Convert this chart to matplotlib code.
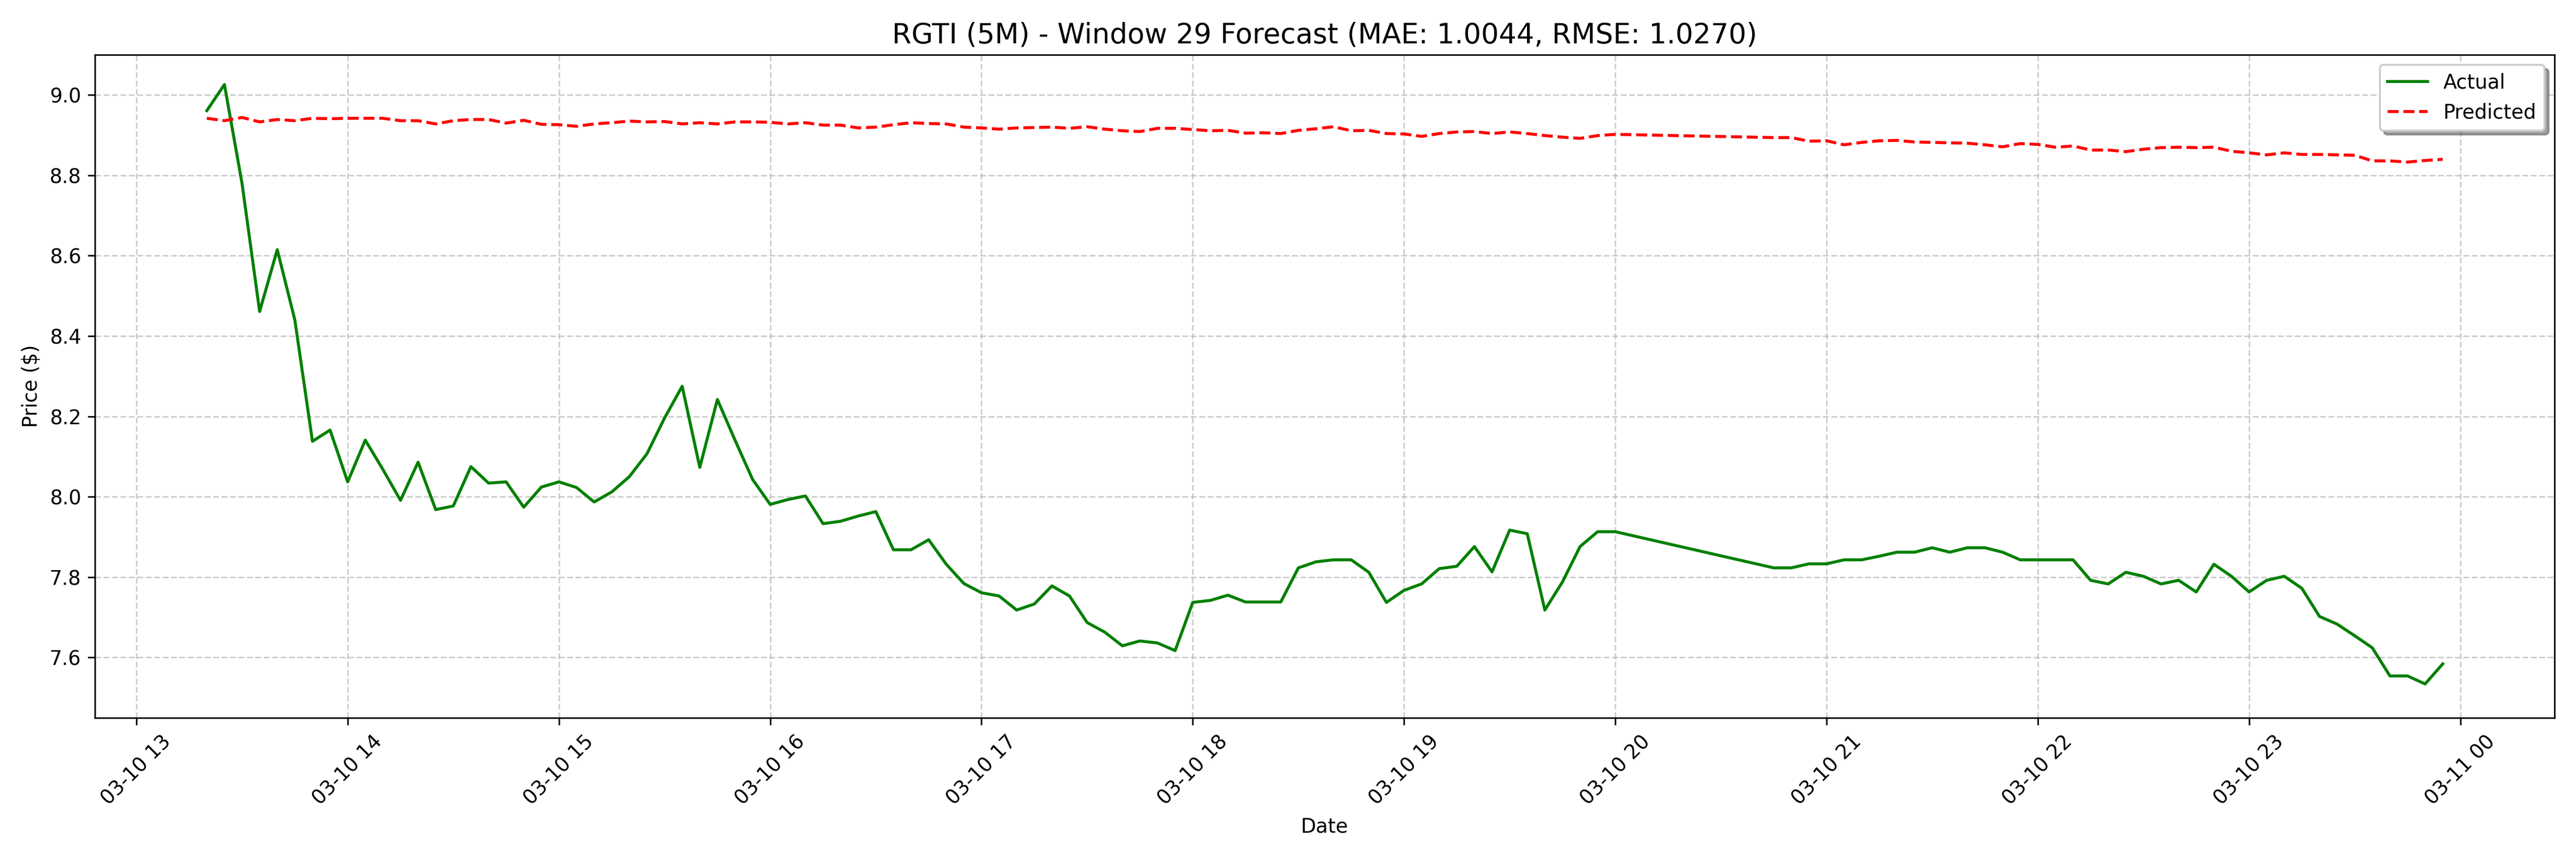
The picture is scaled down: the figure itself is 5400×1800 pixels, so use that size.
import matplotlib
matplotlib.use("Agg")
import matplotlib.pyplot as plt
import matplotlib.dates as mdates
import pandas as pd

# 5-minute bars; no rows between 20:05 and 20:40
dates = pd.date_range("2025-03-10 13:20", "2025-03-10 20:00", freq="5min").append(
    pd.date_range("2025-03-10 20:45", "2025-03-10 23:55", freq="5min")
)

actual = [
    8.961, 9.026, 8.78, 8.461, 8.615, 8.44, 8.138, 8.166, 8.037,
    8.141, 8.068, 7.991, 8.086, 7.968, 7.977, 8.075, 8.034, 8.037, 7.974, 8.024, 8.037,
    8.023, 7.987, 8.012, 8.05, 8.107, 8.196, 8.275, 8.073, 8.242, 8.141, 8.043, 7.981,
    7.993, 8.002, 7.933, 7.939, 7.952, 7.963, 7.868, 7.868, 7.893, 7.832, 7.784, 7.761,
    7.753, 7.718, 7.733, 7.778, 7.753, 7.687, 7.663, 7.629, 7.641, 7.636, 7.617, 7.737,
    7.742, 7.755, 7.738, 7.738, 7.738, 7.823, 7.838, 7.843, 7.843, 7.812, 7.737, 7.767,
    7.783, 7.821, 7.827, 7.876, 7.813, 7.917, 7.908, 7.718, 7.788, 7.876, 7.913, 7.913,
    7.823, 7.823, 7.833, 7.833,
    7.843, 7.843, 7.852, 7.862, 7.862, 7.873, 7.862, 7.873, 7.873, 7.862,
    7.843, 7.843, 7.843, 7.843, 7.792, 7.783, 7.812, 7.802, 7.783, 7.792, 7.763, 7.832,
    7.802, 7.763, 7.792, 7.802, 7.772, 7.702, 7.683, 7.654, 7.624, 7.554, 7.554, 7.534, 7.584,
]

predicted = [
    8.942, 8.936, 8.944, 8.933, 8.939, 8.936, 8.942, 8.941, 8.942,
    8.942, 8.942, 8.936, 8.936, 8.928, 8.936, 8.939, 8.939, 8.930, 8.937, 8.927, 8.926,
    8.922, 8.928, 8.931, 8.935, 8.933, 8.934, 8.928, 8.931, 8.928, 8.933, 8.933, 8.932,
    8.928, 8.931, 8.925, 8.925, 8.918, 8.920, 8.926, 8.931, 8.929, 8.928, 8.920, 8.918,
    8.915, 8.918, 8.919, 8.920, 8.917, 8.921, 8.915, 8.911, 8.909, 8.917, 8.917, 8.914,
    8.911, 8.912, 8.905, 8.906, 8.904, 8.912, 8.916, 8.921, 8.911, 8.912, 8.904, 8.903,
    8.897, 8.904, 8.908, 8.909, 8.904, 8.908, 8.904, 8.899, 8.895, 8.892, 8.899, 8.902,
    8.894, 8.894, 8.885, 8.886,
    8.876, 8.882, 8.886, 8.887, 8.883, 8.882, 8.881, 8.880, 8.876, 8.871,
    8.879, 8.877, 8.870, 8.873, 8.863, 8.863, 8.859, 8.865, 8.869, 8.870, 8.869, 8.870,
    8.860, 8.856, 8.851, 8.856, 8.852, 8.852, 8.851, 8.850, 8.836, 8.836, 8.833, 8.837, 8.840,
]

TITLE = "RGTI (5M) - Window 29 Forecast (MAE: 1.0044, RMSE: 1.0270)"

fig, ax = plt.subplots(figsize=(18, 6))
ax.plot(dates, actual, color="green", linestyle="-", label="Actual")
ax.plot(dates, predicted, color="red", linestyle="--", label="Predicted")
ax.set_title(TITLE, fontsize=14)
ax.set_xlabel("Date")
ax.set_ylabel("Price ($)")
ax.set_ylim(7.45, 9.1)
ax.xaxis.set_major_locator(mdates.HourLocator())
ax.xaxis.set_major_formatter(mdates.DateFormatter("%m-%d %H"))
ax.grid(True, linestyle="--", alpha=0.6)
ax.legend(loc="upper right", shadow=True)
plt.setp(ax.get_xticklabels(), rotation=45)
plt.tight_layout()
plt.savefig("out.png", dpi=300)
